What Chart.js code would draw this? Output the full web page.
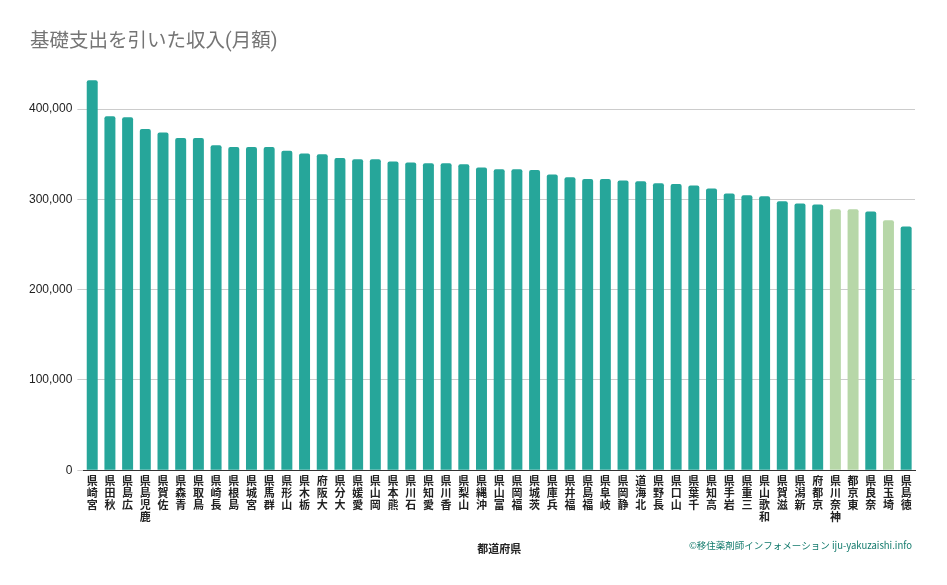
<!DOCTYPE html>
<html>
<head>
<meta charset="utf-8">
<script src="https://cdn.jsdelivr.net/npm/chart.js@4.4.0/dist/chart.umd.min.js"></script>
<style>
  html, body { margin: 0; padding: 0; background: #fff; }
  #wrap { width: 947px; height: 585px; }
</style>
</head>
<body>
<div id="wrap"><canvas id="chart" width="947" height="585"></canvas></div>
<script>
const prefectures = [
  "宮崎県", "秋田県", "広島県", "鹿児島県", "佐賀県", "青森県", "鳥取県", "長崎県",
  "島根県", "宮城県", "群馬県", "山形県", "栃木県", "大阪府", "大分県", "愛媛県",
  "岡山県", "熊本県", "石川県", "愛知県", "香川県", "山梨県", "沖縄県", "富山県",
  "福岡県", "茨城県", "兵庫県", "福井県", "福島県", "岐阜県", "静岡県", "北海道",
  "長野県", "山口県", "千葉県", "高知県", "岩手県", "三重県", "和歌山県", "滋賀県",
  "新潟県", "京都府", "神奈川県", "東京都", "奈良県", "埼玉県", "徳島県"
];
const income = [
  432000, 392000, 391000, 378000, 374000, 368000, 368000, 360000,
  358000, 358000, 358000, 354000, 351000, 350000, 346000, 344500,
  344500, 342000, 341000, 340000, 340000, 339000, 335500, 333500,
  333500, 332500, 327500, 324500, 322500, 322500, 321000, 320000,
  318000, 317000, 315500, 312000, 306500, 304500, 303500, 298000,
  295500, 294500, 289000, 289000, 286500, 277000, 270000
];
// highlighted prefectures (lighter green)
const highlighted = ["神奈川県", "東京都", "埼玉県"];
const yTicks = [0, 100000, 200000, 300000, 400000];

const teal = "#26a69a";
const lightGreen = "#b7d7a8";

const ctx = document.getElementById("chart").getContext("2d");

const textPlugin = {
  id: "texts",
  afterDraw(chart) {
    const c = chart.ctx;
    c.save();
    c.fillStyle = "#757575";
    c.font = "19.5px Roboto, 'Noto Sans CJK JP', sans-serif";
    c.textBaseline = "middle";
    c.textAlign = "left";
    c.fillText("基礎支出を引いた収入(月額)", 30, 42);
    c.fillStyle = "#127a6c";
    c.font = "9.5px 'Noto Sans CJK JP', sans-serif";
    c.textAlign = "right";
    c.fillText("©移住薬剤師インフォメーション iju-yakuzaishi.info", 912, 545);
    c.restore();
  }
};

new Chart(ctx, {
  type: "bar",
  data: {
    // rotated labels: characters stacked from the last one down to the first
    labels: prefectures.map(p => p.split("").reverse()),
    datasets: [{
      data: income,
      backgroundColor: prefectures.map(p => highlighted.includes(p) ? lightGreen : teal),
      barPercentage: 0.62,
      categoryPercentage: 1,
      borderRadius: { topLeft: 2, topRight: 2 },
      borderSkipped: "bottom"
    }]
  },
  options: {
    responsive: false,
    animation: false,
    layout: { padding: { top: 64, left: 24, right: 32, bottom: 26 } },
    plugins: {
      legend: { display: false },
      tooltip: { enabled: false }
    },
    scales: {
      x: {
        grid: { display: false, drawTicks: false },
        border: { color: "#333", width: 1 },
        ticks: {
          autoSkip: false,
          maxRotation: 0,
          minRotation: 0,
          padding: 5,
          color: "#222",
          font: { size: 11, weight: "bold", family: "'Noto Sans CJK JP', sans-serif", lineHeight: 1.08 }
        },
        title: {
          display: true,
          text: "都道府県",
          color: "#222",
          padding: { top: 14 },
          font: { size: 11, weight: "bold", family: "'Noto Sans CJK JP', sans-serif" }
        }
      },
      y: {
        min: 0,
        max: 450000,
        afterBuildTicks(scale) {
          scale.ticks = yTicks.map(v => ({ value: v }));
        },
        grid: { color: "#cccccc", tickLength: 6 },
        border: { display: false },
        ticks: {
          color: "#222",
          padding: 5,
          font: { size: 12, family: "'Liberation Sans', Arial, sans-serif" },
          callback: v => v.toLocaleString("en-US")
        }
      }
    }
  },
  plugins: [textPlugin]
});
</script>
</body>
</html>
